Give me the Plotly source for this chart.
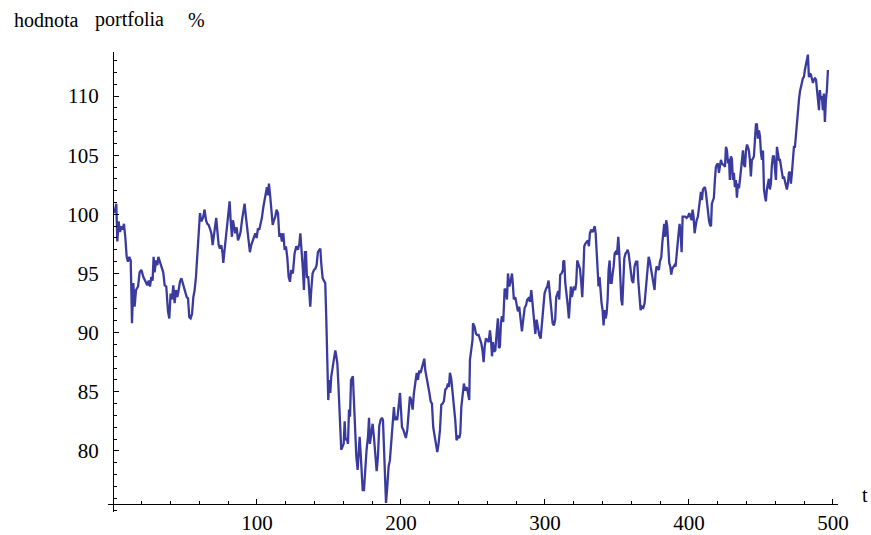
import plotly.graph_objects as go

# Portfolio value (% of initial) over time t
t = [
    1.0, 2.3, 3.0, 3.9, 4.9, 5.8, 6.7, 7.6, 8.6, 9.5,
    10.4, 11.3, 12.3, 13.2, 14.1, 15.0, 16.0, 17.4, 18.5, 19.7,
    21.1, 22.5, 23.8, 24.8, 25.7, 26.6, 27.5, 28.2, 28.9, 29.9,
    30.8, 31.5, 32.4, 33.1, 34.0, 34.9, 35.9, 37.0, 38.2, 39.1,
    40.0, 41.0, 41.9, 42.8, 43.8, 44.7, 45.6, 46.5, 47.5, 48.4,
    49.3, 50.2, 51.2, 52.1, 53.0, 53.9, 54.9, 55.8, 56.7, 57.6,
    58.6, 59.5, 60.4, 61.3, 62.5,
    63.6, 64.6, 65.5, 66.4, 67.3, 68.3, 69.2, 70.1, 71.0, 71.7,
    72.4, 73.4, 74.3, 75.2, 76.1, 76.6, 77.5, 78.4, 79.4, 80.3,
    81.0, 81.7, 82.6, 83.3, 84.0, 84.9, 85.9, 86.8, 87.7, 88.6,
    89.6, 90.5, 91.4, 92.3, 93.3, 94.2, 95.1, 96.0, 97.0, 97.9,
    98.8, 99.7, 100.7, 101.6, 102.5, 103.4, 104.4, 105.3, 106.2, 106.9,
    107.6, 108.3, 109.2, 109.9, 110.9, 111.8, 112.7, 113.6, 114.6, 115.5,
    116.4, 117.3, 118.3, 119.2, 120.1, 121.0, 122.0, 122.9, 123.8, 124.7,
    125.0, 126.1, 127.3, 128.4, 129.4, 130.1, 131.0, 131.9, 132.6, 133.3,
    134.0, 134.7, 135.6, 136.3, 137.0, 137.7, 138.6, 139.6, 140.5, 141.4,
    142.3, 143.3, 144.0, 144.6, 145.6, 146.5, 147.4, 148.1, 148.8, 149.5,
    150.2, 150.9, 151.6, 152.5, 153.4, 154.4, 155.1, 155.8, 156.5, 157.1,
    157.8, 158.5, 159.5, 160.2, 160.9, 161.5, 162.2, 163.2, 163.9, 164.6,
    165.3, 165.9, 166.6, 167.3, 168.0, 169.0, 169.9, 170.6, 171.3, 172.0,
    172.7, 173.4, 174.3, 175.2, 176.1, 177.1, 177.8, 178.4, 179.4, 180.3,
    181.2, 182.1, 183.1, 184.0, 184.9, 185.8, 186.8, 187.5,
    188.6, 189.6, 190.5, 191.4, 192.3, 193.3, 194.2, 195.1, 195.8, 196.5,
    197.4, 198.4, 199.3, 200.0, 200.7, 201.6, 202.5, 203.4, 204.4, 205.3,
    206.2, 207.1, 208.1, 209.0, 209.9, 210.9, 211.8, 212.7, 213.6, 214.6,
    215.5, 216.2, 216.9, 217.8, 218.7, 219.6, 220.6, 221.5, 222.4, 223.4,
    224.3, 225.2, 226.1, 227.1, 228.0, 228.9, 229.8, 230.8, 231.7, 232.6,
    233.3, 234.0, 234.9, 235.9, 236.8, 237.7, 238.6, 239.6, 240.5, 241.2,
    241.9, 242.8, 243.7, 244.6, 245.6, 246.5, 247.4, 247.9, 248.8, 249.7,
    250.0, 251.1, 252.1, 253.0, 253.9, 254.8, 255.8, 256.7, 257.4, 258.1,
    259.0, 259.9, 260.9, 261.8, 262.5, 263.2, 263.9, 264.6, 265.5, 266.4,
    267.3, 268.0, 268.7, 269.4, 270.1, 271.0, 272.0, 272.9, 273.6, 274.3,
    275.2, 276.1, 277.1, 277.8, 278.4, 279.4, 280.3, 281.2, 282.1, 283.1,
    284.0, 284.9, 285.9, 286.8, 287.7, 288.6, 289.6, 290.5, 291.4, 292.3,
    293.3, 294.2, 295.1, 296.0, 297.0, 297.9, 298.8, 299.7, 300.7, 301.6,
    302.5, 303.4, 304.4, 305.3, 306.2, 307.1, 307.8, 308.5, 309.2, 309.9,
    310.6, 311.5, 312.5,
    312.7, 313.4, 314.1, 315.0, 315.9, 316.6, 317.3, 318.0, 318.7, 319.4,
    320.1, 321.0, 321.7, 322.4, 323.4, 324.3, 325.2, 325.9, 326.6, 327.3,
    328.0, 328.9, 329.8, 330.5, 331.2, 332.1, 333.1, 333.8, 334.5, 335.2,
    335.9, 336.5, 337.2, 337.9, 338.6, 339.3, 340.0, 340.7, 341.4, 342.1,
    342.8, 343.5, 344.2, 344.9, 345.6, 346.3, 347.0, 347.7, 348.4, 349.0,
    350.0, 350.9, 351.6, 352.3, 353.0, 353.7, 354.4, 355.1, 356.0, 356.7,
    357.4, 358.1, 358.8, 359.5, 360.4, 361.3, 362.2, 363.2, 364.1, 364.8,
    365.5, 366.4, 367.3, 368.3, 369.2, 369.9, 370.6, 371.3, 372.0, 372.7,
    373.4, 374.3, 375.0,
    375.7, 376.1, 376.8, 377.5, 378.4, 379.1, 379.8, 380.8, 381.5, 382.1,
    382.8, 383.5, 384.2, 384.9, 385.6, 386.3, 387.0, 387.7, 388.4, 389.1,
    390.0, 390.7, 391.4, 392.1, 392.8, 393.5, 394.2, 394.9, 395.6, 396.5,
    397.4, 398.4, 399.3, 400.2, 401.1, 401.8, 402.5, 403.2, 403.9, 404.6,
    405.3, 406.2, 406.9, 407.6, 408.3, 409.0, 409.7, 410.4, 411.1, 411.8,
    412.5, 413.2, 413.9, 414.6, 415.3, 415.9, 416.6, 417.3, 418.0, 418.7,
    419.4, 420.1, 420.8, 421.5, 422.2, 422.9, 423.6, 424.3, 425.0, 425.7,
    426.4, 427.1, 427.8, 428.4, 429.1, 429.8, 430.5, 431.2, 431.9, 432.6,
    433.3, 434.0, 434.7, 435.4, 436.1, 436.8, 437.5,
    438.2, 438.9, 439.6, 440.3, 440.9, 441.6, 442.3, 443.0, 443.7, 444.4,
    445.1, 445.8, 446.5, 447.2, 447.9, 448.6, 449.3, 450.0, 450.7, 451.4,
    452.1, 452.8, 453.4, 454.1, 454.8, 455.5, 456.2, 456.9, 457.6, 458.3,
    459.0, 459.7, 460.4, 461.1, 461.8, 462.5, 463.2, 463.9, 464.6, 465.3,
    465.9, 466.6, 467.3, 468.0, 468.7, 469.4, 470.1, 470.8, 471.5, 472.2,
    472.9, 473.6, 474.3, 475.0, 475.7, 476.4, 477.1, 477.8, 478.4, 479.1,
    479.8, 480.5, 481.2, 481.9, 482.6, 483.3, 484.0, 484.7, 485.4, 486.1,
    486.8, 487.5, 488.2, 488.9, 489.6, 490.3, 490.9, 491.6, 492.3, 493.0,
    493.7, 494.4, 495.1, 495.8, 496.5,
]

value = [
    100.1, 100.9, 97.7, 99.4, 98.5, 99.0, 98.7, 99.2, 98.0, 96.4,
    96.0, 96.4, 96.1, 90.8, 94.2, 92.2, 93.6, 93.9, 95.1, 95.3,
    94.7, 94.3, 94.0, 94.4, 93.9, 94.7, 94.4, 96.4, 95.1, 96.1,
    95.7, 96.4, 96.0, 95.9, 95.3, 95.1, 94.0, 93.9, 91.8, 91.2,
    93.3, 92.8, 94.0, 92.5, 93.6, 93.0, 93.6, 94.3, 94.6, 94.2,
    93.9, 93.5, 93.0, 92.9, 91.3, 91.2, 91.6, 93.0, 93.6, 94.7,
    96.4, 98.4, 100.1, 99.4, 99.7,
    100.4, 99.5, 99.2, 99.1, 98.8, 98.4, 97.4, 98.1, 98.9, 99.7,
    98.7, 97.4, 97.1, 97.4, 96.7, 95.9, 97.0, 98.1, 99.5, 100.6,
    101.1, 99.5, 98.1, 99.5, 98.8, 98.4, 98.9, 97.8, 98.1, 98.5,
    99.5, 100.4, 100.9, 99.8, 98.5, 97.4, 96.8, 97.4, 97.7, 98.1,
    98.4, 98.0, 98.8, 98.7, 99.1, 99.7, 100.6, 101.3, 102.0, 102.3,
    101.6, 102.6, 101.5, 100.4, 99.1, 99.5, 99.8, 100.4, 100.1, 98.1,
    98.4, 97.7, 98.4, 97.0, 97.3, 96.4, 94.7, 94.3, 95.3, 95.0,
    95.1, 96.7, 97.3, 97.0, 97.5, 98.4, 97.0, 95.3, 93.6, 96.8,
    96.8, 94.7, 94.7, 93.3, 92.2, 93.6, 95.0, 95.3, 95.4, 95.7,
    96.8, 97.0, 97.1, 95.9, 94.6, 94.4, 94.2, 91.3, 88.0, 84.3,
    86.0, 84.9, 86.3, 87.0, 87.7, 88.5, 88.0, 87.4, 85.7, 84.0,
    81.8, 80.1, 80.4, 80.6, 82.5, 80.9, 81.1, 80.6, 83.5, 82.9,
    86.0, 86.1, 86.3, 84.3, 81.5, 79.5, 78.4, 80.6, 81.2, 79.8,
    78.4, 76.7, 76.7, 78.9, 80.1, 81.2, 82.8, 80.6, 81.8, 82.3,
    81.2, 79.5, 78.3, 79.5, 82.1, 82.6, 82.8, 82.6,
    79.2, 75.6, 77.0, 78.7, 79.2, 80.9, 82.3, 83.7, 82.6, 82.9,
    82.6, 84.0, 84.9, 83.5, 82.0, 81.8, 81.5, 81.1, 81.8, 82.9,
    84.6, 84.3, 83.5, 84.9, 85.7, 86.6, 86.0, 86.8, 86.6, 87.1,
    87.7, 87.8, 86.8, 86.3, 85.7, 85.0, 84.2, 84.0, 82.0, 81.1,
    80.6, 79.9, 80.6, 81.8, 83.9, 84.0, 84.2, 85.2, 85.3, 85.7,
    85.4, 86.6, 86.1, 84.9, 83.7, 82.6, 80.9, 81.2, 81.1, 81.5,
    83.7, 85.1, 85.7, 85.1, 85.4, 84.9, 84.3, 87.7, 88.5, 89.4,
    90.8, 90.5, 89.9, 89.8, 89.8, 89.5, 89.1, 88.4, 87.5, 88.8,
    89.5, 89.4, 89.2, 90.2, 89.4, 88.0, 89.2, 88.4, 88.5, 89.9,
    91.2, 88.7, 88.8, 90.8, 91.4, 90.9, 93.7, 93.6, 92.8, 95.0,
    93.9, 94.3, 95.0, 93.9, 92.8, 93.0, 92.3, 91.8, 92.2, 91.1,
    90.1, 91.1, 92.1, 92.3, 92.8, 92.9, 92.6, 93.6, 92.6, 91.4,
    89.9, 91.1, 90.2, 89.8, 89.5, 90.8, 92.2, 93.3, 93.7, 93.9,
    94.4, 93.0, 91.4, 90.8, 90.6, 91.1, 93.0, 93.3, 93.5, 92.8,
    94.9, 95.0, 95.3,
    96.0, 96.1, 94.2, 92.8, 92.2, 91.2, 92.8, 93.9, 93.0, 93.6,
    93.9, 93.6, 94.2, 96.1, 95.7, 95.4, 94.2, 93.0, 94.9, 97.3,
    97.5, 97.7, 97.8, 97.3, 98.4, 98.7, 98.5, 98.7, 99.0, 98.4,
    97.0, 95.6, 93.9, 94.7, 93.3, 92.5, 91.9, 90.6, 91.9, 91.2,
    91.6, 92.8, 95.3, 96.1, 94.2, 94.2, 95.0, 95.6, 96.7, 96.8,
    96.6, 98.1, 96.7, 94.7, 92.8, 92.3, 94.7, 96.3, 96.7, 96.8,
    97.0, 96.7, 96.0, 95.0, 94.4, 94.2, 95.6, 96.0, 96.0, 94.4,
    93.5, 91.9, 92.2, 92.1, 92.5, 93.6, 94.4, 95.7, 96.4, 96.1,
    95.6, 95.0, 94.6,
    94.2, 93.6, 95.0, 95.6, 95.4, 95.3, 96.0, 96.4, 97.6, 98.7,
    99.2, 98.1, 99.5, 99.0, 97.6, 95.9, 95.6, 94.9, 95.4, 95.6,
    95.7, 95.6, 96.7, 97.6, 98.4, 99.2, 98.4, 96.8, 99.8, 99.8,
    99.8, 99.7, 99.8, 100.1, 99.8, 99.5, 100.4, 99.8, 98.4, 99.0,
    99.5, 99.8, 100.7, 101.5, 101.9, 101.2, 102.1, 102.2, 102.3, 101.8,
    100.9, 100.4, 99.5, 99.1, 99.0, 100.9, 101.2, 101.4, 102.9, 104.0,
    104.2, 104.3, 103.5, 104.3, 104.6, 104.3, 104.2, 104.2, 104.0, 105.7,
    105.4, 104.3, 104.7, 102.9, 104.9, 104.7, 102.9, 103.5, 102.3, 102.9,
    101.4, 102.6, 102.2, 102.9, 103.8, 104.6, 105.4,
    104.2, 104.0, 105.4, 105.9, 105.7, 105.4, 104.6, 103.2, 104.6, 104.7,
    104.9, 106.0, 107.6, 107.6, 106.4, 107.1, 106.6, 105.2, 104.6, 105.4,
    102.1, 101.5, 101.1, 102.1, 102.8, 103.0, 102.1, 102.6, 104.2, 104.9,
    104.9, 104.0, 102.9, 105.7, 105.2, 104.6, 104.6, 104.0, 103.3, 103.0,
    103.2, 102.8, 102.3, 102.1, 102.6, 103.5, 103.6, 102.6, 103.5, 104.6,
    105.7, 105.7, 106.8, 108.0, 108.8, 109.7, 110.4, 110.7, 111.1, 111.5,
    111.6, 112.2, 112.6, 112.9, 113.5, 111.6, 111.9, 111.8, 111.4, 111.1,
    111.4, 111.5, 111.4, 110.5, 110.2, 108.8, 110.5, 109.7, 110.0, 108.8,
    110.2, 107.8, 109.7, 110.5, 112.2,
]

x_ticks = [100, 200, 300, 400, 500]
y_ticks = [80, 85, 90, 95, 100, 105, 110]

x_range = [-3.47, 503.5]
y_range = [74.84, 113.72]
x_axis_at = 75.51  # value where the horizontal axis crosses

serif = "Liberation Serif"

fig = go.Figure(
    go.Scatter(
        x=t,
        y=value,
        mode="lines",
        line=dict(color="#3b3b9f", width=2.3),
        hoverinfo="skip",
    )
)

fig.update_layout(
    width=871,
    height=535,
    margin=dict(l=108, r=33, t=52, b=23, autoexpand=False),
    paper_bgcolor="white",
    plot_bgcolor="white",
    showlegend=False,
    font=dict(family=serif, size=21, color="black"),
    xaxis=dict(
        range=x_range,
        anchor="free",
        position=(x_axis_at - y_range[0]) / (y_range[1] - y_range[0]),
        automargin=False,
        showgrid=False,
        zeroline=False,
        showline=True,
        linecolor="black",
        linewidth=1,
        tickmode="array",
        tickvals=x_ticks,
        ticks="inside",
        ticklen=5,
        tickwidth=1,
        tickcolor="black",
        ticklabelstandoff=0,
        minor=dict(dtick=20, tick0=0, ticks="inside", ticklen=3,
                   tickwidth=1, tickcolor="black"),
        tickfont=dict(family=serif, size=21),
    ),
    yaxis=dict(
        range=y_range,
        anchor="free",
        position=(0 - x_range[0]) / (x_range[1] - x_range[0]),
        automargin=False,
        showgrid=False,
        zeroline=False,
        showline=True,
        linecolor="black",
        linewidth=1,
        tickmode="array",
        tickvals=y_ticks,
        ticks="inside",
        ticklen=5,
        tickwidth=1,
        tickcolor="black",
        ticklabelstandoff=10,
        minor=dict(dtick=1, tick0=0, ticks="inside", ticklen=3,
                   tickwidth=1, tickcolor="black"),
        tickfont=dict(family=serif, size=21),
    ),
)

# Axis labels in the style of the original notebook output
label_font = dict(family=serif, size=20, color="black")
for txt, xp in [("hodnota", -0.1315), ("portfolia", -0.0205), ("%", 0.1068)]:
    fig.add_annotation(text=txt, x=xp, y=1.0696, xref="paper", yref="paper",
                       xanchor="left", yanchor="middle", showarrow=False,
                       font=label_font)
fig.add_annotation(text="t", x=1.030, y=0.037, xref="paper", yref="paper",
                   xanchor="left", yanchor="middle", showarrow=False,
                   font=label_font)

fig.write_html("out.html")
